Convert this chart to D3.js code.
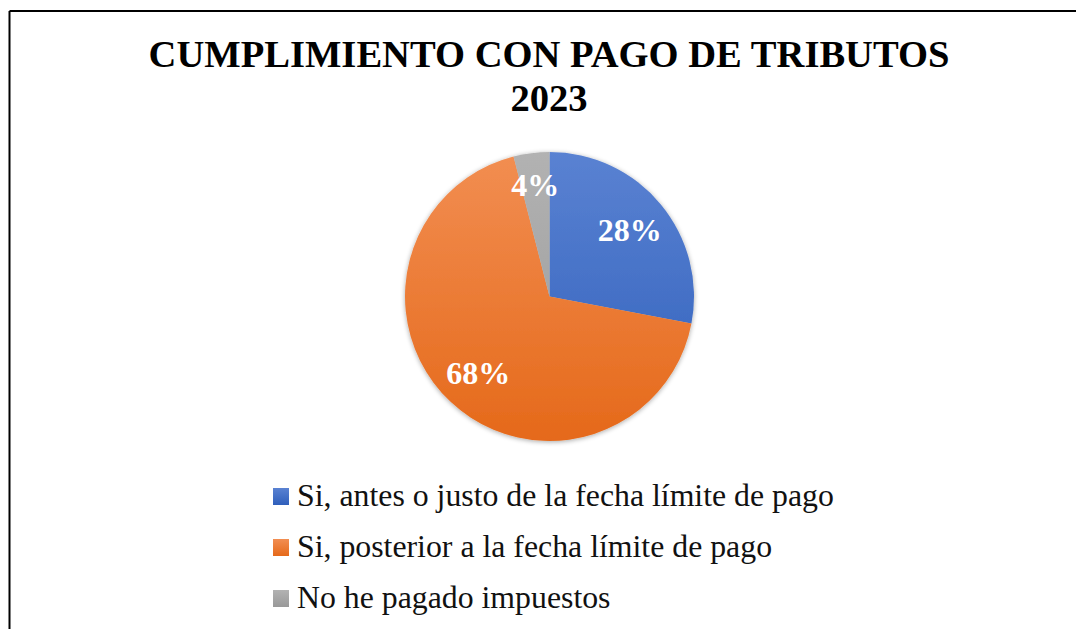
<!DOCTYPE html>
<html>
<head>
<meta charset="utf-8">
<script src="https://cdn.jsdelivr.net/npm/d3@7"></script>
<style>
  body { margin: 0; background: #fff; }
  svg { display: block; }
</style>
</head>
<body>
<svg id="chart" width="1076" height="629"></svg>
<script>
// Chart data
const categories = [
  "Si, antes o justo de la fecha límite de pago",
  "Si, posterior a la fecha límite de pago",
  "No he pagado impuestos"
];
const values = [28, 68, 4];
const labels = ["28%", "68%", "4%"];
const titleLines = ["CUMPLIMIENTO CON PAGO DE TRIBUTOS", "2023"];

const svg = d3.select("#chart");
const width = +svg.attr("width");
const serif = "'Liberation Serif', 'Times New Roman', serif";

// gradient per slice (lighter on top, darker at bottom)
const gradColors = [
  ["#5a82d2", "#2f5fbb"],
  ["#f28e52", "#e5691a"],
  ["#b2b2b2", "#999999"]
];
const defs = svg.append("defs");
gradColors.forEach((c, i) => {
  const g = defs.append("linearGradient")
    .attr("id", "grad" + i)
    .attr("gradientUnits", "userSpaceOnUse")
    .attr("x1", 0).attr("y1", -145).attr("x2", 0).attr("y2", 145);
  g.append("stop").attr("offset", "0%").attr("stop-color", c[0]);
  g.append("stop").attr("offset", "100%").attr("stop-color", c[1]);
  // same thing for the legend keys
  const k = defs.append("linearGradient")
    .attr("id", "key" + i)
    .attr("x1", 0).attr("y1", 0).attr("x2", 0).attr("y2", 1);
  k.append("stop").attr("offset", "0%").attr("stop-color", c[0]);
  k.append("stop").attr("offset", "100%").attr("stop-color", c[1]);
});
const shadow = defs.append("filter").attr("id", "shadow")
  .attr("x", "-10%").attr("y", "-10%").attr("width", "120%").attr("height", "120%");
shadow.append("feGaussianBlur").attr("in", "SourceAlpha").attr("stdDeviation", 2.5);
shadow.append("feOffset").attr("dx", 0).attr("dy", 1).attr("result", "blur");
shadow.append("feComponentTransfer").append("feFuncA").attr("type", "linear").attr("slope", 0.35);
const merge = shadow.append("feMerge");
merge.append("feMergeNode");
merge.append("feMergeNode").attr("in", "SourceGraphic");

// frame (top and left edges visible)
svg.append("line").attr("x1", 9.5).attr("y1", 11).attr("x2", width).attr("y2", 11)
  .attr("stroke", "#000").attr("stroke-width", 2);
svg.append("line").attr("x1", 9.5).attr("y1", 11).attr("x2", 9.5).attr("y2", 629)
  .attr("stroke", "#000").attr("stroke-width", 2);

// title
svg.append("g").selectAll("text")
  .data(titleLines)
  .enter()
  .append("text")
  .attr("x", 549)
  .attr("y", (d, i) => 67 + i * 44)
  .attr("text-anchor", "middle")
  .style("font-family", serif)
  .style("font-weight", "bold")
  .style("font-size", "38.6px")
  .text(d => d);

// pie
const cx = 549.5, cy = 296.5, radius = 144.5;
const pie = d3.pie().sort(null).value(d => d);
const arc = d3.arc().innerRadius(0).outerRadius(radius);
const g = svg.append("g").attr("transform", `translate(${cx},${cy})`);

g.append("g").attr("filter", "url(#shadow)")
  .selectAll("path")
  .data(pie(values))
  .enter()
  .append("path")
  .attr("d", arc)
  .attr("fill", (d, i) => `url(#grad${i})`);

const labelPos = [
  d3.arc().innerRadius(radius * 0.72).outerRadius(radius * 0.72),
  d3.arc().innerRadius(radius * 0.72).outerRadius(radius * 0.72),
  d3.arc().innerRadius(radius * 0.78).outerRadius(radius * 0.78)
];
g.selectAll("text")
  .data(pie(values))
  .enter()
  .append("text")
  .attr("transform", (d, i) => `translate(${labelPos[i].centroid(d)})`)
  .attr("text-anchor", "middle")
  .attr("dy", ".35em")
  .style("fill", "#fff")
  .style("font-family", serif)
  .style("font-weight", "bold")
  .style("font-size", "32px")
  .text((d, i) => labels[i]);

// legend
const legend = svg.append("g").attr("transform", "translate(273,488)");
const rows = legend.selectAll("g")
  .data(categories)
  .enter()
  .append("g")
  .attr("transform", (d, i) => `translate(0,${i * 51})`);

rows.append("rect")
  .attr("width", 16).attr("height", 17)
  .attr("fill", (d, i) => `url(#key${i})`);

rows.append("text")
  .attr("x", 24)
  .attr("y", 18)
  .style("font-family", serif)
  .style("font-size", "31.8px")
  .style("fill", "#111")
  .text(d => d);
</script>
</body>
</html>
